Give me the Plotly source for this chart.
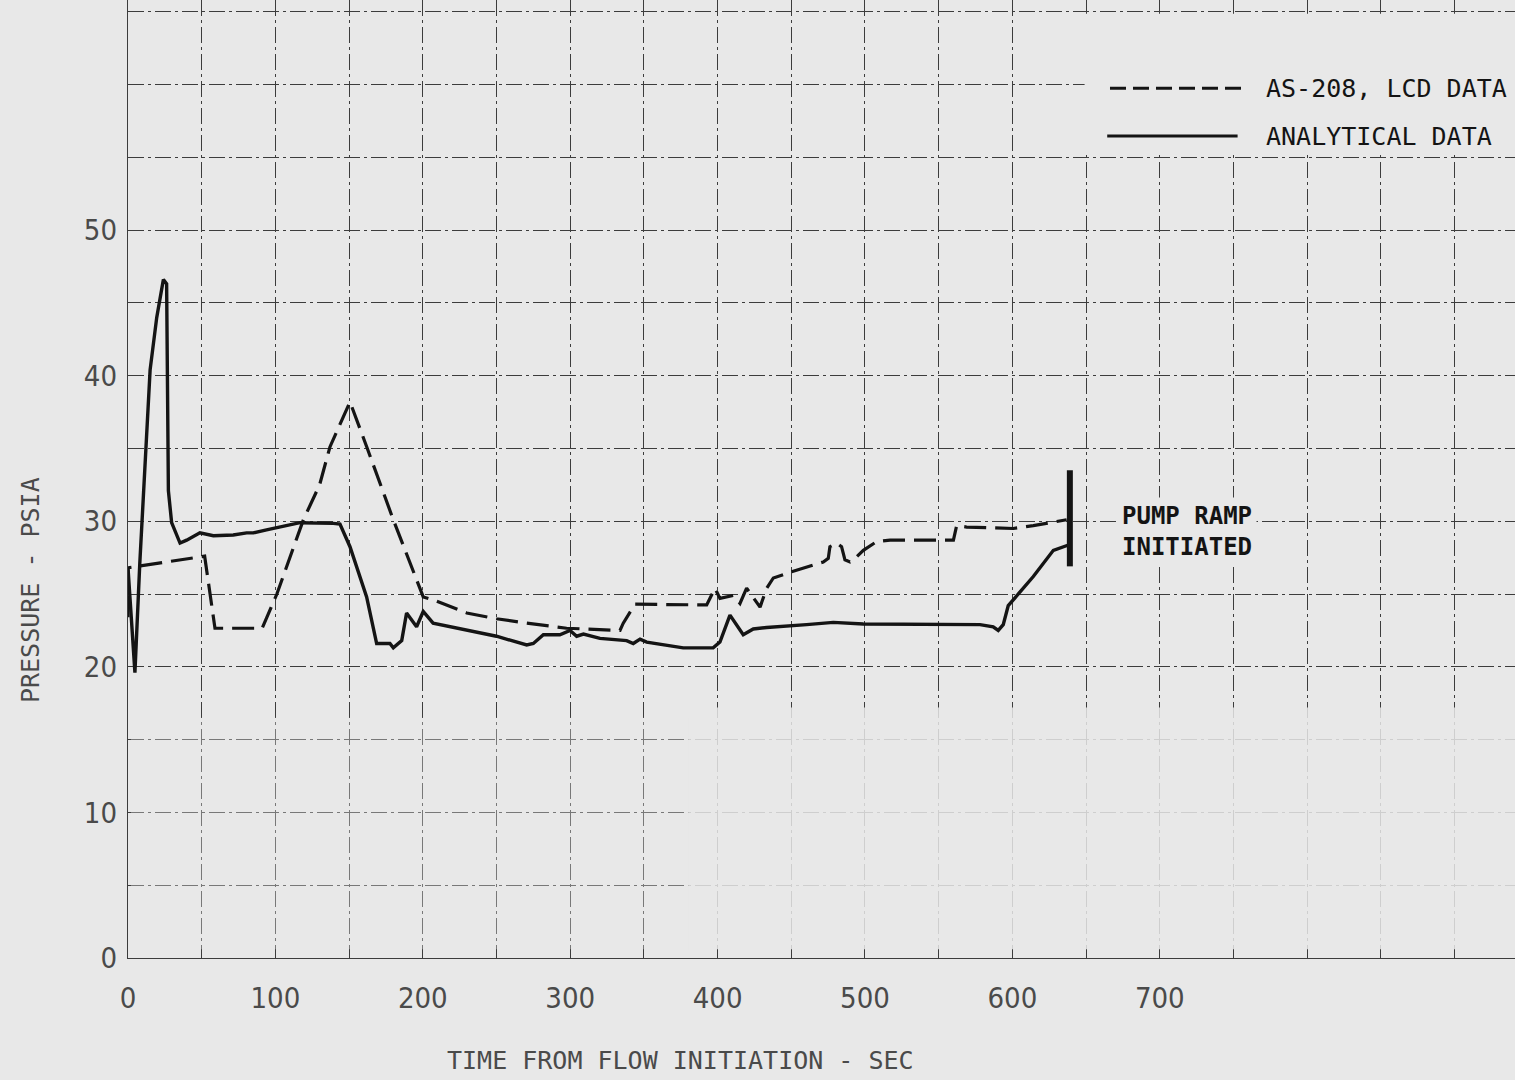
import plotly.graph_objects as go

# ---------------- data ----------------
lcd_time = [0, 0, 52, 59, 91, 101, 119, 130, 137, 150.6, 162, 180, 200.3, 207, 229.8, 250, 270.5,
            297.6, 333.8, 336, 344, 392.6, 398.2, 401.6, 410.6, 415.2, 419.7, 424.2, 428.8, 433.3,
            437.8, 449.3, 471.7, 475.1, 476.2, 480.8, 484.1, 486.4, 489.8, 493.2, 498.9, 507.9,
            517, 560, 562.2, 569, 600.6, 614.2, 636.8]
lcd_psia = [23.4, 26.8, 27.6, 22.65, 22.65, 25.0, 30.1, 32.5, 35.1, 38.2, 35.1, 30.1, 24.8, 24.6,
            23.7, 23.3, 23.0, 22.65, 22.5, 23.0, 24.3, 24.25, 25.4, 24.7, 24.9, 24.35, 25.4, 24.8,
            24.1, 25.4, 26.1, 26.5, 27.2, 27.45, 28.25, 28.5, 28.25, 27.35, 27.2, 27.45, 28.0, 28.6,
            28.7, 28.7, 29.7, 29.6, 29.5, 29.7, 30.1]

ana_time = [0, 4.7, 8, 15, 19.5, 24, 26.2, 27.4, 29.6, 35.3, 39.8, 48.8, 57.9, 71.4, 80.5, 85, 94,
            116.7, 139.3, 143.8, 150.6, 161.9, 168.7, 177.7, 180, 185.7, 189, 195.8, 200.3, 207,
            250, 270.5, 275, 281.8, 293, 299.9, 304.4, 309, 320.2, 338.3, 342.8, 347.4, 351.9,
            376.7, 397, 401.6, 408.4, 417.4, 424.2, 433.3, 460.4, 478.5, 498.9, 532.8, 578, 587,
            590.4, 593.8, 597.2, 600.6, 614.2, 627.8, 636.8, 639]
ana_psia = [26.8, 19.6, 27.1, 40.4, 44.0, 46.6, 46.3, 32.1, 29.9, 28.5, 28.7, 29.2, 29.0, 29.05,
            29.2, 29.2, 29.4, 29.9, 29.85, 29.8, 28.25, 24.8, 21.6, 21.6, 21.3, 21.8, 23.7, 22.75,
            23.8, 23.0, 22.1, 21.5, 21.6, 22.2, 22.2, 22.5, 22.1, 22.25, 21.95, 21.8, 21.6, 21.9,
            21.7, 21.3, 21.3, 21.7, 23.55, 22.2, 22.6, 22.7, 22.9, 23.05, 22.94, 22.9, 22.9, 22.75,
            22.5, 22.9, 24.2, 24.6, 26.2, 28.0, 28.3, 28.4]

pump_time = [639, 639]
pump_psia = [26.9, 33.5]

x_tick_vals = [0, 100, 200, 300, 400, 500, 600, 700]
x_tick_labels = ["0", "100", "200", "300", "400", "500", "600", "700"]
y_tick_vals = [0, 10, 20, 30, 40, 50]
y_tick_labels = ["0", "10", "20", "30", "40", "50"]

series_names = ["AS-208, LCD DATA", "ANALYTICAL DATA"]

# ---------------- styling ----------------
BG = "#e8e8e8"
INK = "#141414"
GRID = "#3c3c3c"
LABEL = "#4a4a4a"
TXT_FONT = "Liberation Sans Narrow, DejaVu Sans Condensed, DejaVu Sans Mono, monospace"
MONO = "DejaVu Sans Mono, Liberation Mono, monospace"

X_MAX = 941
Y_MAX = 65.8

fig = go.Figure()
fig.add_trace(go.Scatter(x=lcd_time, y=lcd_psia, mode="lines", name=series_names[0],
                         line=dict(color=INK, width=3.2, dash="22px,9px"), showlegend=False))
fig.add_trace(go.Scatter(x=ana_time, y=ana_psia, mode="lines", name=series_names[1],
                         line=dict(color=INK, width=3.4), showlegend=False))
fig.add_trace(go.Scatter(x=pump_time, y=pump_psia, mode="lines", name="pump ramp",
                         line=dict(color=INK, width=6), showlegend=False))

# grid: every 50 s / 5 psia, labels only at given ticks
xg = list(range(0, 950, 50))
xg_text = [x_tick_labels[x_tick_vals.index(v)] if v in x_tick_vals else "" for v in xg]
yg = list(range(0, 70, 5))
yg_text = [y_tick_labels[y_tick_vals.index(v)] if v in y_tick_vals else "" for v in yg]

gdash = "16px,4px,3px,4px"
fig.update_xaxes(range=[0, X_MAX], tickmode="array", tickvals=xg, ticktext=xg_text,
                 showgrid=True, gridcolor=GRID, gridwidth=1.3, griddash=gdash,
                 zeroline=False, showline=True, linecolor=GRID, linewidth=1.2,
                 ticks="outside", ticklen=14, tickcolor="rgba(0,0,0,0)",
                 tickfont=dict(family=TXT_FONT, size=29, color=LABEL))
fig.update_yaxes(range=[0, Y_MAX], tickmode="array", tickvals=yg, ticktext=yg_text,
                 showgrid=True, gridcolor=GRID, gridwidth=1.3, griddash=gdash,
                 zeroline=False, showline=True, linecolor=GRID, linewidth=1.4,
                 ticks="outside", ticklen=4, tickcolor="rgba(0,0,0,0)",
                 tickfont=dict(family=TXT_FONT, size=29, color=LABEL))

# faded grid in the lower part of the scanned sheet
fig.add_shape(type="rect", xref="x", yref="y", x0=2, x1=380, y0=0.6, y1=16.5,
              fillcolor="rgba(232,232,232,0.35)", line=dict(width=0), layer="between")
fig.add_shape(type="rect", xref="x", yref="y", x0=380, x1=X_MAX + 5, y0=0.6, y1=17.2,
              fillcolor="rgba(232,232,232,0.85)", line=dict(width=0), layer="between")
# blank area behind the legend
fig.add_shape(type="rect", xref="x", yref="y", x0=649, x1=X_MAX + 5, y0=55.15, y1=64.85,
              fillcolor=BG, line=dict(width=0), layer="above")
# legend lines
fig.add_shape(type="line", xref="paper", yref="paper", x0=0.708, x1=0.804, y0=0.908, y1=0.908,
              line=dict(color=INK, width=3, dash="16px,7px"), layer="above")
fig.add_shape(type="line", xref="paper", yref="paper", x0=0.706, x1=0.800, y0=0.858, y1=0.858,
              line=dict(color=INK, width=3), layer="above")

annotations = [
    dict(text=series_names[0], xref="paper", yref="paper", x=0.819, y=0.908, xanchor="left",
         yanchor="middle", showarrow=False, font=dict(family=MONO, size=25, color=INK)),
    dict(text=series_names[1], xref="paper", yref="paper", x=0.819, y=0.858, xanchor="left",
         yanchor="middle", showarrow=False, font=dict(family=MONO, size=25, color=INK)),
    dict(text="<b>PUMP RAMP</b><br><b>INITIATED</b>", xref="x", yref="y", x=671, y=29.3,
         xanchor="left", yanchor="middle", align="left", showarrow=False, bgcolor=BG,
         borderpad=4, font=dict(family=MONO, size=24, color=INK)),
    dict(text="TIME FROM FLOW INITIATION - SEC", xref="paper", yref="paper", x=0.398, y=-0.1065,
         xanchor="center", yanchor="middle", showarrow=False,
         font=dict(family=MONO, size=25, color=LABEL)),
    dict(text="PRESSURE - PSIA", xref="paper", yref="paper", x=-0.0707, y=0.384, textangle=-90,
         xanchor="center", yanchor="middle", showarrow=False,
         font=dict(family=MONO, size=25, color=LABEL)),
]

fig.update_layout(width=1515, height=1080, paper_bgcolor=BG, plot_bgcolor=BG,
                  margin=dict(l=128, r=0, t=0, b=122), annotations=annotations,
                  showlegend=False)

fig.write_html("out.html", config={"displayModeBar": False},
               post_script="document.body.style.margin='0px';"
                           "document.body.style.background='#e8e8e8';"
                           "document.body.style.overflow='hidden';")
